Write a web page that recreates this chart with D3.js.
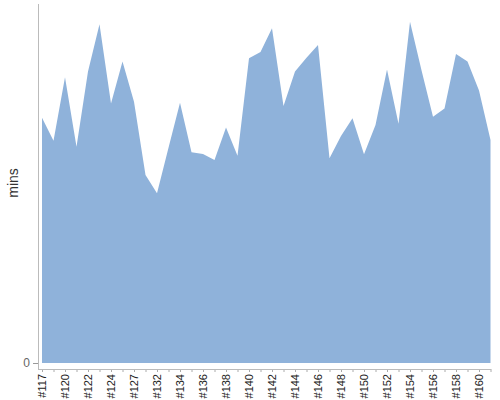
<!DOCTYPE html>
<html>
<head>
<meta charset="utf-8">
<style>
  body { margin: 0; background: #fff; }
  .tick text { font-family: "Liberation Sans", Arial, sans-serif; }
</style>
</head>
<body>
<script src="https://d3js.org/d3.v7.min.js"></script>
<script>
// builds on the x axis
var builds = ['#117', '#118', '#120', '#121', '#122', '#123', '#124', '#126', '#127', '#130',
              '#132', '#133', '#134', '#135', '#136', '#137', '#138', '#139', '#140', '#141',
              '#142', '#143', '#144', '#145', '#146', '#147', '#148', '#149', '#150', '#151',
              '#152', '#153', '#154', '#155', '#156', '#157', '#158', '#159', '#160', '#161'];
// duration per build
var mins = [68.5, 62.1, 79.8, 60.4, 81.4, 94.6, 72.5, 84.2, 73.0, 52.5,
            47.4, 60.1, 72.7, 58.9, 58.4, 56.7, 65.8, 57.9, 85.1, 86.9,
            93.5, 71.8, 81.4, 85.3, 88.8, 57.2, 63.4, 68.4, 58.3, 66.5,
            82.0, 66.8, 95.3, 81.8, 68.8, 71.1, 86.3, 84.2, 76.1, 62.3];
var yTicks = [0];
var yMax = 100;

var width = 500;
var height = 400;

var svg = d3.select('body')
  .append('svg')
  .attr('width', width)
  .attr('height', height);

var xScale = d3.scalePoint()
  .domain(builds)
  .range([42, 490.5]);

var yScale = d3.scaleLinear()
  .domain([0, yMax])
  .range([363, 5]);

var data = builds.map(function(b, i) { return { build: b, value: mins[i] }; });

// area
var area = d3.area()
  .x(function(d) { return xScale(d.build); })
  .y0(yScale(0))
  .y1(function(d) { return yScale(d.value); });

svg.append('path')
  .attr('d', area(data))
  .attr('fill', '#8fb2da');

// y axis
var yAxis = d3.axisLeft(yScale)
  .tickValues(yTicks)
  .tickSize(5)
  .tickPadding(3);

var gy = svg.append('g')
  .attr('transform', 'translate(38,0)')
  .call(yAxis);
gy.select('.domain').remove();
gy.selectAll('.tick line').attr('stroke', '#999');
gy.selectAll('.tick text').attr('fill', '#666').style('font-size', '12px');

svg.append('line')
  .attr('x1', 38.5).attr('x2', 38.5)
  .attr('y1', 4).attr('y2', 369)
  .attr('stroke', '#bbb');

// x axis
var xAxis = d3.axisBottom(xScale)
  .tickSize(3)
  .tickSizeOuter(0)
  .tickFormat(function(d, i) { return i % 2 === 0 ? d : ''; });

var gx = svg.append('g')
  .attr('transform', 'translate(0,369)')
  .call(xAxis);
gx.select('.domain').remove();
gx.append('line')
  .attr('x1', 38).attr('x2', 491)
  .attr('y1', 0.5).attr('y2', 0.5)
  .attr('stroke', '#bbb');
gx.selectAll('.tick line').attr('stroke', '#aaa');
gx.selectAll('.tick text')
  .attr('fill', '#222')
  .style('font-size', '11px')
  .attr('text-anchor', 'end')
  .attr('transform', 'rotate(-90)')
  .attr('x', -5)
  .attr('y', 0)
  .attr('dy', '0.35em');

// y label
svg.append('text')
  .attr('transform', 'translate(18,183) rotate(-90)')
  .attr('text-anchor', 'middle')
  .style('font-family', '"Liberation Sans", Arial, sans-serif')
  .style('font-size', '14px')
  .attr('fill', '#333')
  .text('mins');
</script>
</body>
</html>
